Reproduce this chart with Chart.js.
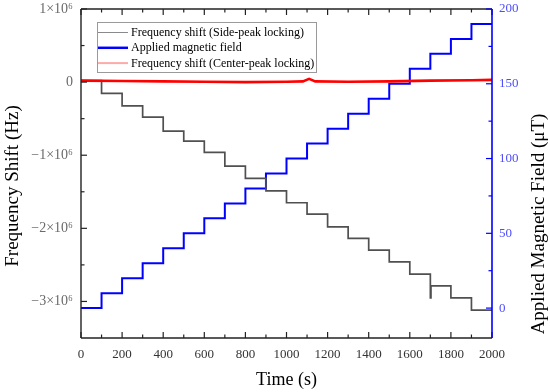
<!DOCTYPE html>
<html>
<head>
<meta charset="utf-8">
<script src="https://cdn.jsdelivr.net/npm/chart.js@4.4.0/dist/chart.umd.min.js"></script>
<style>
html,body{margin:0;padding:0;background:#fff;}
#wrap{width:550px;height:392px;}
</style>
</head>
<body>
<div id="wrap"><canvas id="c" width="550" height="392"></canvas></div>
<script>
// ---------- data ----------
const seriesLabels = [
  'Frequency shift (Side-peak locking)',
  'Applied magnetic field',
  'Frequency shift (Center-peak locking)'
];

// Side-peak locking frequency shift (Hz), stepped every 100 s
const sideTime  = [0, 100, 200, 300, 400, 500, 600, 700, 800, 900, 1000, 1100, 1200, 1300, 1400, 1500, 1600, 1700, 1703, 1800, 1900, 2000];
const sideShift = [20000, -155000, -324000, -479000, -670000, -807000, -962000, -1149000, -1318000, -1487000, -1650000,
                   -1806000, -1979000, -2138000, -2298000, -2458000, -2627000, -2950000, -2787000, -2951000, -3119000, -3119000];

// Applied magnetic field (uT)
const fieldTime  = [0, 100, 200, 300, 400, 500, 600, 700, 800, 900, 1000, 1100, 1200, 1300, 1400, 1500, 1600, 1700, 1800, 1900, 2000];
const fieldValue = [0, 10, 20, 30, 40, 50, 60, 70, 80, 90, 100, 110, 120, 130, 140, 150, 160, 170, 180, 190, 190];

// Center-peak locking frequency shift (Hz)
const centerTime  = [0, 200, 400, 600, 800, 1000, 1080, 1110, 1140, 1300, 1500, 1700, 1900, 2000];
const centerShift = [20000, 15000, 10000, 5000, 0, 5000, 10000, 45000, 10000, 5000, 10000, 20000, 25000, 30000];

// tick values and labels
const timeTicks       = [0, 200, 400, 600, 800, 1000, 1200, 1400, 1600, 1800, 2000];
const timeTickLabels  = ['0', '200', '400', '600', '800', '1000', '1200', '1400', '1600', '1800', '2000'];
const timeMinorTicks  = [100, 300, 500, 700, 900, 1100, 1300, 1500, 1700, 1900];
const shiftTicks      = [-3000000, -2000000, -1000000, 0, 1000000];
const shiftTickLabels = ['\u22123\u00d710\u2076', '\u22122\u00d710\u2076', '\u22121\u00d710\u2076', '0', '1\u00d710\u2076'];
const shiftMinorTicks = [-2500000, -1500000, -500000, 500000];
const fieldTicks      = [0, 50, 100, 150, 200];
const fieldTickLabels = ['0', '50', '100', '150', '200'];
const fieldMinorTicks = [25, 75, 125, 175];

const xTitle  = 'Time (s)';
const yTitle  = 'Frequency Shift (Hz)';
const y2Title = 'Applied Magnetic Field (\u03bcT)';

// ---------- chart ----------
const FONT = "'Liberation Serif', 'Times New Roman', serif";
Chart.defaults.font.family = FONT;

const toPts = (xs, ys) => xs.map((x, i) => ({x: x, y: ys[i]}));

const framePlugin = {
  id: 'frame',
  afterDatasetsDraw(chart) {
    const {ctx, chartArea: a, scales} = chart;
    const sx = scales.x, sy = scales.y, sy2 = scales.y2;
    const ln = (x1, y1, x2, y2) => { ctx.beginPath(); ctx.moveTo(x1, y1); ctx.lineTo(x2, y2); ctx.stroke(); };
    ctx.save();
    // black ticks
    ctx.strokeStyle = '#222';
    ctx.lineWidth = 1.2;
    const MAJ = 6, MIN = 3.5;
    timeTicks.forEach(v => { const px = sx.getPixelForValue(v); ln(px, a.bottom, px, a.bottom - MAJ); ln(px, a.top, px, a.top + MAJ); });
    timeMinorTicks.forEach(v => { const px = sx.getPixelForValue(v); ln(px, a.bottom, px, a.bottom - MIN); ln(px, a.top, px, a.top + MIN); });
    shiftTicks.forEach(v => { const py = sy.getPixelForValue(v); ln(a.left, py, a.left + MAJ, py); });
    shiftMinorTicks.forEach(v => { const py = sy.getPixelForValue(v); ln(a.left, py, a.left + MIN, py); });
    // frame
    ctx.lineWidth = 1.4;
    ln(a.left, a.top, a.right, a.top);
    ln(a.left, a.bottom, a.right, a.bottom);
    ln(a.left, a.top, a.left, a.bottom);
    // blue right axis
    ctx.strokeStyle = '#0000ff';
    ctx.lineWidth = 1.2;
    fieldTicks.forEach(v => { const py = sy2.getPixelForValue(v); ln(a.right, py, a.right - MAJ, py); });
    fieldMinorTicks.forEach(v => { const py = sy2.getPixelForValue(v); ln(a.right, py, a.right - MIN, py); });
    ctx.lineWidth = 1.6;
    ln(a.right, a.top, a.right, a.bottom);

    // legend
    const lx = a.left + 16, ly = a.top + 13, lw = 219, lh = 50;
    ctx.fillStyle = '#fff';
    ctx.fillRect(lx, ly, lw, lh);
    ctx.strokeStyle = '#9a9a9a';
    ctx.lineWidth = 1;
    ctx.strokeRect(lx + 0.5, ly + 0.5, lw, lh);
    const sample = [
      {c: '#8a8a8a', w: 1},
      {c: '#0000ff', w: 2.5},
      {c: '#ffaaaa', w: 2}
    ];
    ctx.font = '12px ' + FONT;
    ctx.textBaseline = 'middle';
    ctx.textAlign = 'left';
    chart.data.datasets.forEach((ds, i) => {
      const yy = ly + 10.5 + i * 15.3;
      ctx.strokeStyle = sample[i].c;
      ctx.lineWidth = sample[i].w;
      ln(lx + 1, yy, lx + 31, yy);
      ctx.fillStyle = '#000';
      ctx.fillText(ds.label, lx + 34, yy + 0.5);
    });

    // vertical axis titles (both read bottom-to-top)
    const vTitle = (text, x, y) => {
      ctx.save();
      ctx.translate(x, y);
      ctx.rotate(-Math.PI / 2);
      ctx.font = '19px ' + FONT;
      ctx.fillStyle = '#000';
      ctx.textAlign = 'center';
      ctx.textBaseline = 'middle';
      ctx.fillText(text, 0, 0);
      ctx.restore();
    };
    vTitle(yTitle, 13, 186);
    vTitle(y2Title, 539, 224);
    ctx.restore();
  }
};

const noPad = s => { s.paddingTop = 0; s.paddingBottom = 0; s.paddingLeft = 0; s.paddingRight = 0; };

new Chart(document.getElementById('c'), {
  type: 'scatter',
  data: {
    datasets: [
      {label: seriesLabels[0], data: toPts(sideTime, sideShift), yAxisID: 'y', showLine: true, stepped: true,
       borderColor: '#505050', borderWidth: 1.7, pointRadius: 0, order: 2},
      {label: seriesLabels[1], data: toPts(fieldTime, fieldValue), yAxisID: 'y2', showLine: true, stepped: true,
       borderColor: '#0000ff', borderWidth: 2, pointRadius: 0, order: 3},
      {label: seriesLabels[2], data: toPts(centerTime, centerShift), yAxisID: 'y', showLine: true,
       borderColor: '#ff0000', borderWidth: 2.6, pointRadius: 0, order: 1}
    ]
  },
  options: {
    responsive: false,
    animation: false,
    devicePixelRatio: 1,
    layout: {padding: {top: 9, left: 0, right: 0, bottom: 0}},
    plugins: {legend: {display: false}, tooltip: {enabled: false}},
    scales: {
      x: {
        type: 'linear', position: 'bottom', min: 0, max: 2000,
        afterBuildTicks: s => { s.ticks = timeTicks.map(v => ({value: v})); },
        afterFit: s => { s.height = 54; noPad(s); },
        grid: {display: false, drawTicks: false, tickLength: 0},
        border: {display: false},
        ticks: {padding: 9, color: '#333', font: {size: 13}, autoSkip: false, maxRotation: 0,
                callback: v => timeTickLabels[timeTicks.indexOf(v)]},
        title: {display: true, text: xTitle, color: '#000', font: {size: 18}, padding: {top: 0, bottom: 1}}
      },
      y: {
        type: 'linear', position: 'left', min: -3500000, max: 1000000,
        afterBuildTicks: s => { s.ticks = shiftTicks.map(v => ({value: v})); },
        afterFit: s => { s.width = 81; noPad(s); },
        grid: {display: false, drawTicks: false, tickLength: 0},
        border: {display: false},
        ticks: {padding: 8, color: '#6a6a6a', font: {size: 14},
                callback: v => shiftTickLabels[shiftTicks.indexOf(v)]},
        title: {display: false}
      },
      y2: {
        type: 'linear', position: 'right', min: -20, max: 200,
        afterBuildTicks: s => { s.ticks = fieldTicks.map(v => ({value: v})); },
        afterFit: s => { s.width = 58; noPad(s); },
        grid: {display: false, drawTicks: false, tickLength: 0},
        border: {display: false},
        ticks: {padding: 7, color: '#4d4dff', font: {size: 13},
                callback: v => fieldTickLabels[fieldTicks.indexOf(v)]}
      }
    }
  },
  plugins: [framePlugin]
});
</script>
</body>
</html>
